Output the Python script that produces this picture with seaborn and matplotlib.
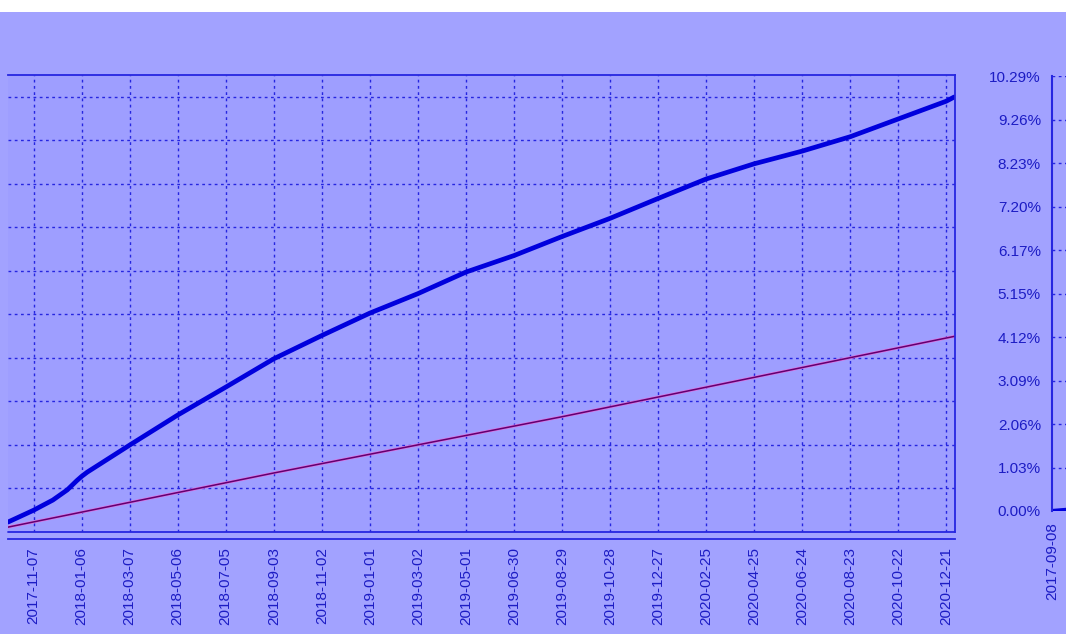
import matplotlib
matplotlib.use("Agg")
import matplotlib.pyplot as plt
import seaborn as sns
import pandas as pd
from matplotlib.patches import Rectangle

# blue curve (cumulative return, %)
fund_dates = ["2017-10-06", "2017-11-07", "2017-12-01", "2017-12-19", "2017-12-31",
              "2018-01-06", "2018-01-13", "2018-03-07", "2018-05-06", "2018-07-05",
              "2018-09-03", "2018-11-02", "2019-01-01", "2019-03-02", "2019-05-01",
              "2019-06-30", "2019-08-29", "2019-10-28", "2019-12-27", "2020-02-25",
              "2020-04-25", "2020-06-24", "2020-08-23", "2020-10-22", "2020-12-21",
              "2020-12-31"]
fund_values = [-0.28, 0.00, 0.24, 0.48, 0.70,
               0.80, 0.90, 1.54, 2.25, 2.91,
               3.58, 4.13, 4.66, 5.12, 5.63,
               6.02, 6.47, 6.90, 7.37, 7.83,
               8.19, 8.49, 8.83, 9.25, 9.67,
               9.77]

# thin purple line
bench_dates = ["2017-10-06", "2018-09-03", "2019-08-29", "2020-12-31"]
bench_values = [-0.40, 0.88, 2.21, 4.11]

# small side panel
panel_dates = ["2017-09-08", "2017-09-30"]
panel_values = [0.00, 0.03]

tick_dates = ["2017-11-07", "2018-01-06", "2018-03-07", "2018-05-06", "2018-07-05",
              "2018-09-03", "2018-11-02", "2019-01-01", "2019-03-02", "2019-05-01",
              "2019-06-30", "2019-08-29", "2019-10-28", "2019-12-27", "2020-02-25",
              "2020-04-25", "2020-06-24", "2020-08-23", "2020-10-22", "2020-12-21"]
pct_values = [0, 1.029, 2.058, 3.087, 4.116, 5.145, 6.174, 7.203, 8.232, 9.261, 10.29]
pct_labels = ["0.00%", "1.03%", "2.06%", "3.09%", "4.12%", "5.15%",
              "6.17%", "7.20%", "8.23%", "9.26%", "10.29%"]

fund = pd.DataFrame({"date": pd.to_datetime(fund_dates), "value": fund_values})
bench = pd.DataFrame({"date": pd.to_datetime(bench_dates), "value": bench_values})
panel = pd.DataFrame({"date": pd.to_datetime(panel_dates), "value": panel_values})

sns.set_style("white")
plt.rcParams["font.family"] = ["Liberation Sans", "DejaVu Sans"]

W, H = 1066, 634
bg = "#a2a2ff"
line_c = "#2626e0"
text_c = "#1c1cc4"

fig = plt.figure(figsize=(W / 100, H / 100), dpi=100, facecolor=bg)
fig.patches.append(Rectangle((0, (H - 12) / H), 1, 12 / H, transform=fig.transFigure,
                             facecolor="white", edgecolor="none"))

# main chart
ax = fig.add_axes([8 / W, (H - 532) / H, 947 / W, 457 / H])
ax.set_facecolor("#9e9eff")
sns.lineplot(data=bench, x="date", y="value", ax=ax, color="#e070e0", linewidth=2.0)
sns.lineplot(data=bench, x="date", y="value", ax=ax, color="#600070", linewidth=1.1)
sns.lineplot(data=fund, x="date", y="value", ax=ax, color="#0000dd", linewidth=3.4)

ax.set_xlim(pd.Timestamp("2017-10-06"), pd.Timestamp("2021-01-01"))
ax.set_ylim(-0.515, 10.29)
ax.set_xticks(pd.to_datetime(tick_dates))
ax.set_xticklabels(tick_dates)
ax.set_yticks([v + 0.515 for v in pct_values[:-1]])
ax.set_yticklabels([])
ax.set_xlabel("")
ax.set_ylabel("")
ax.grid(True, color=line_c, linestyle=(0, (2, 2.5)), linewidth=1.0)
ax.tick_params(axis="y", length=0)
ax.tick_params(axis="x", direction="out", length=4, width=1, color=line_c,
               labelcolor=text_c, labelsize=11, pad=2, labelrotation=90)
for s in ["top", "right", "left", "bottom"]:
    ax.spines[s].set_color(line_c)
    ax.spines[s].set_linewidth(1.3)
ax.spines["left"].set_visible(False)
ax.spines["bottom"].set_position(("outward", 5))
ax.plot([0, 1], [0, 0], transform=ax.transAxes, color=line_c, linewidth=1.3, clip_on=False)

# side panel with the percentage scale
ax2 = fig.add_axes([1052 / W, (H - 511) / H, 30 / W, 435 / H])
ax2.set_facecolor(bg)
sns.lineplot(data=panel, x="date", y="value", ax=ax2, color="#0000dd", linewidth=3.0)
ax2.set_xlim(pd.Timestamp("2017-09-08"), pd.Timestamp("2017-10-20"))
ax2.set_ylim(0, 10.29)
ax2.set_yticks(pct_values)
ax2.set_yticklabels(pct_labels)
ax2.set_xticks([pd.Timestamp("2017-09-08")])
ax2.set_xticklabels(["2017-09-08"])
ax2.set_xlabel("")
ax2.set_ylabel("")
ax2.grid(True, axis="y", color=line_c, linestyle=(0, (2, 2.5)), linewidth=1.0)
ax2.tick_params(axis="both", direction="out", length=5, width=1, color=line_c,
                labelcolor=text_c, labelsize=11, pad=3)
ax2.tick_params(axis="x", labelrotation=90)
for s in ["top", "right", "bottom"]:
    ax2.spines[s].set_visible(False)
ax2.spines["left"].set_color(line_c)
ax2.spines["left"].set_linewidth(1.5)

fig.savefig("out.png", dpi=100, facecolor=bg)
